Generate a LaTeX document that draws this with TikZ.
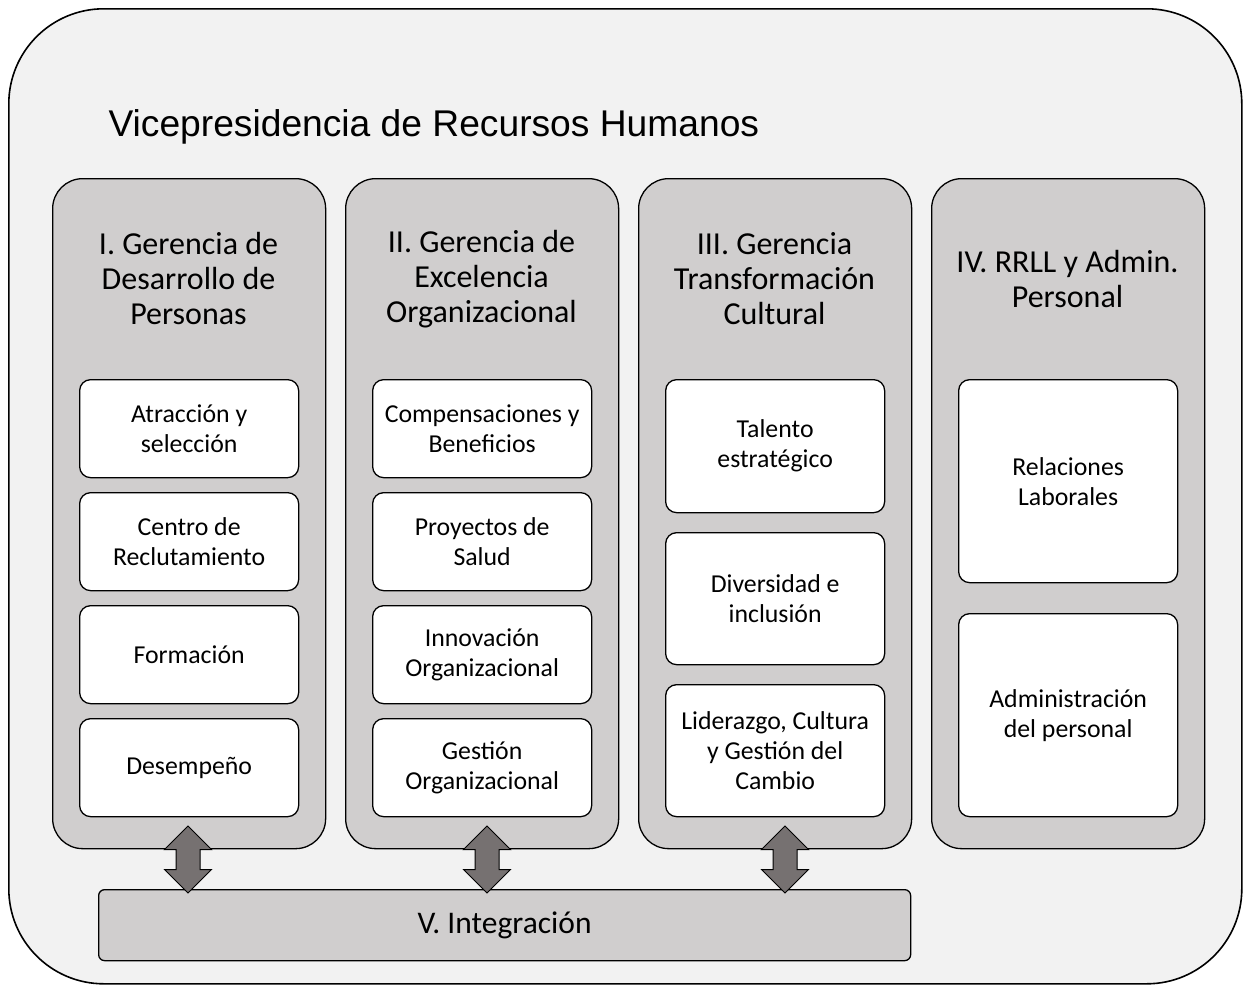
\documentclass[tikz,border=0pt]{standalone}
\usepackage{fontspec}
\setmainfont{Carlito}
\newfontfamily\arialf{Liberation Sans}
\usetikzlibrary{shapes.arrows}
\definecolor{bggray}{HTML}{F2F2F2}
\definecolor{colgray}{HTML}{D0CECE}
\definecolor{arrowgray}{HTML}{767171}
\begin{document}
\begin{tikzpicture}[x=1pt,y=-1pt,
  outer/.style={draw,line width=1.6pt,fill=bggray,rounded corners=95pt,anchor=north west,inner sep=0pt,minimum width=1233pt,minimum height=975pt},
  col/.style={draw,line width=1.3pt,fill=colgray,rounded corners=30pt,anchor=north west,minimum width=273pt,minimum height=670pt,inner sep=0pt},
  head/.style={align=center,font=\fontsize{32}{35}\selectfont},
  sub/.style={draw,line width=1.3pt,fill=white,rounded corners=11pt,anchor=north west,minimum width=219pt,align=center,font=\fontsize{25.8}{30}\selectfont,inner sep=0pt},
  dbl/.style={double arrow,draw,line width=1pt,fill=arrowgray,rotate=90,minimum height=67pt,minimum width=46pt,double arrow head extend=11.5pt,double arrow tip angle=90,inner xsep=0pt,inner ysep=11.5pt},
  integ/.style={draw,line width=1.3pt,fill=colgray,rounded corners=6pt,anchor=north west,minimum width=812pt,minimum height=71pt,inner sep=0pt}
]
\useasboundingbox (0,0) rectangle (1243,985);
\fill[white] (0,0) rectangle (1243,985);
\node[outer] (vp) at (8,8) {};
\node[anchor=base west,font=\arialf\fontsize{37.2}{44}\selectfont] (title) at (105,136) {Vicepresidencia de Recursos Humanos};

% columns
\node[col] (c1) at (52,178) {};
\node[col] (c2) at (345,178) {};
\node[col] (c3) at (638,178) {};
\node[col] (c4) at (931,178) {};

\node[head] (h1) at (188.5,279) {I. Gerencia de\\Desarrollo de\\Personas};
\node[head] (h2) at (481.5,279) {II. Gerencia de\\Excelencia\\Organizacional};
\node[head] (h3) at (774.5,279) {III. Gerencia\\Transformación\\Cultural};
\node[head] (h4) at (1067.5,279) {IV. RRLL y Admin.\\Personal};

% column I
\node[sub,minimum height=98pt] (s11) at (79,379) {Atracción y\\selección};
\node[sub,minimum height=98pt] (s12) at (79,492) {Centro de\\Reclutamiento};
\node[sub,minimum height=98pt] (s13) at (79,605) {Formación};
\node[sub,minimum height=98pt] (s14) at (79,718) {Desempeño};
% column II
\node[sub,minimum height=98pt] (s21) at (372,379) {Compensaciones y\\Beneficios};
\node[sub,minimum height=98pt] (s22) at (372,492) {Proyectos de\\Salud};
\node[sub,minimum height=98pt] (s23) at (372,605) {Innovación\\Organizacional};
\node[sub,minimum height=98pt] (s24) at (372,718) {Gestión\\Organizacional};
% column III
\node[sub,minimum height=133pt] (s31) at (665,379) {Talento\\estratégico};
\node[sub,minimum height=132pt] (s32) at (665,532) {Diversidad e\\inclusión};
\node[sub,minimum height=132pt] (s33) at (665,684) {Liderazgo, Cultura\\y Gestión del\\Cambio};
% column IV
\node[sub,minimum height=203pt] (s41) at (958,379) {Relaciones\\Laborales};
\node[sub,minimum height=203pt] (s42) at (958,613) {Administración\\del personal};

% integration
\node[integ] (v) at (98,889) {};
\node[font=\fontsize{31.5}{36}\selectfont] (vt) at (v.center) {V. Integración};

% double arrows
\node[dbl] (a1) at (188,859.5) {};
\node[dbl] (a2) at (487,859.5) {};
\node[dbl] (a3) at (785,859.5) {};
\end{tikzpicture}
\end{document}
